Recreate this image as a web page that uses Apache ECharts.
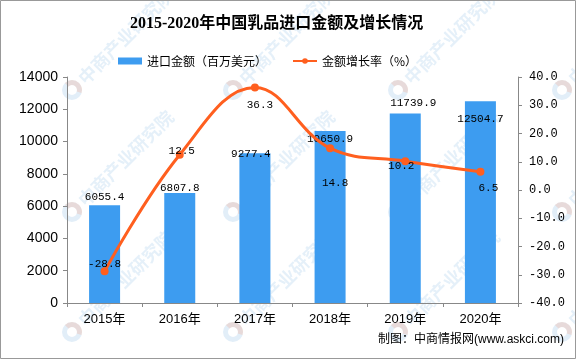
<!DOCTYPE html>
<html>
<head>
<meta charset="utf-8">
<script src="https://cdn.jsdelivr.net/npm/echarts@6/dist/echarts.min.js"></script>
<style>
html,body{margin:0;padding:0;background:#fff;}
#c{width:576px;height:359px;}
</style>
</head>
<body>
<div id="c"></div>
<script>
var categories = ['2015年','2016年','2017年','2018年','2019年','2020年'];
var importValues = [6055.4, 6807.8, 9277.4, 10650.9, 11739.9, 12504.7];
var growthRates = [-28.8, 12.5, 36.3, 14.8, 10.2, 6.5];
var barLabelOffsets = [[0,-3],[0,0],[-4,6],[0,14],[8,-5],[0,23]];
var lineLabelOffsets = [[0,-7],[2,-4],[5,18],[5,35],[-4,5],[8,16]];
var titleText = '2015-2020年中国乳品进口金额及增长情况';
var seriesNames = ['进口金额（百万美元）','金额增长率（%）'];
var footerText = '制图：中商情报网(www.askci.com)';

var chart = echarts.init(document.getElementById('c'), null, {renderer:'canvas'});
var monoFont = '"Liberation Mono", "DejaVu Sans Mono", monospace';
var cjk = '"Noto Sans CJK SC"';

// watermark graphics
var wm = [];
var wxs = [72, 233, 398, 562], wys = [90, 212, 332];
wxs.forEach(function(x){ wys.forEach(function(y){
  wm.push({type:'ring', silent:true, z:-10, shape:{cx:x, cy:y, r:10, r0:5}, style:{fill:'rgba(150,195,230,0.28)'}});
  wm.push({type:'sector', silent:true, z:-9, shape:{cx:x, cy:y, r:10, r0:5, startAngle:-Math.PI*0.75, endAngle:Math.PI*0.1}, style:{fill:'rgba(245,170,140,0.28)'}});
  wm.push({type:'text', silent:true, z:-10, x:x, y:y, rotation:Math.PI/4,
    style:{x:13, y:0, text:'中商产业研究院', font:'bold 18px "Noto Sans CJK SC"', fill:'rgba(160,200,232,0.28)', textVerticalAlign:'middle'}});
});});

var option = {
  animation:false,
  backgroundColor:'#fff',
  title:{text:titleText, left:125, top:11,
    textStyle:{fontSize:16, fontWeight:'bold', color:'#000', fontFamily:'"Liberation Serif", "Noto Sans CJK SC"'}},
  legend:{top:50, left:113, itemGap:25, itemWidth:24, itemHeight:7, itemStyle:{borderWidth:0},
    textStyle:{fontSize:12, color:'#000', fontFamily:cjk},
    data:[{name:seriesNames[0], icon:'rect'},{name:seriesNames[1]}]},
  grid:{left:67, right:58, top:77, bottom:56, containLabel:false},
  xAxis:{type:'category', data:categories, boundaryGap:true,
    axisLine:{lineStyle:{color:'#888'}},
    axisTick:{show:true, length:4, lineStyle:{color:'#888'}},
    axisLabel:{color:'#000', fontSize:13, margin:10, fontFamily:'"Liberation Sans", "Noto Sans CJK SC"'}},
  yAxis:[
    {type:'value', min:0, max:14000, interval:2000, position:'left',
      axisLine:{show:true, lineStyle:{color:'#888'}},
      axisTick:{show:true, length:4, lineStyle:{color:'#888'}},
      splitLine:{show:false},
      axisLabel:{color:'#000', fontSize:14, margin:9, fontFamily:'"Liberation Sans"',
        formatter:function(v){return String(v);}}},
    {type:'value', min:-40, max:40, interval:10, position:'right',
      axisLine:{show:true, lineStyle:{color:'#888'}},
      axisTick:{show:true, length:4, lineStyle:{color:'#888'}},
      splitLine:{show:false},
      axisLabel:{color:'#000', fontSize:12, margin:11, fontFamily:monoFont,
        formatter:function(v){return v.toFixed(1);}}}
  ],
  series:[
    {name:seriesNames[0], type:'bar', yAxisIndex:0, barWidth:31,
      itemStyle:{color:'#3D9CF0'},
      data:importValues.map(function(v,i){
        return {value:v, label:{offset:barLabelOffsets[i]}};
      }),
      label:{show:true, position:'top', distance:0, color:'#000', fontSize:11, fontFamily:monoFont}},
    {name:seriesNames[1], type:'line', yAxisIndex:1, smooth:0.4,
      symbol:'circle', symbolSize:8,
      lineStyle:{color:'#FF5F1F', width:3},
      itemStyle:{color:'#FF5F1F'},
      data:growthRates.map(function(v,i){
        return {value:v, label:{offset:lineLabelOffsets[i]}};
      }),
      label:{show:true, position:'inside', color:'#000', fontSize:11, fontFamily:monoFont,
        formatter:function(p){return p.value.toFixed(1);}}}
  ],
  graphic:wm.concat([
    {type:'text', left:378, top:334, z:10,
      style:{text:footerText, font:'12px "Liberation Sans", "Noto Sans CJK SC"', fill:'#000'}},
    {type:'rect', silent:true, z:20, shape:{x:0.5, y:0.5, width:575, height:358},
      style:{fill:'none', stroke:'#999', lineWidth:1}}
  ])
};
chart.setOption(option);
</script>
</body>
</html>
